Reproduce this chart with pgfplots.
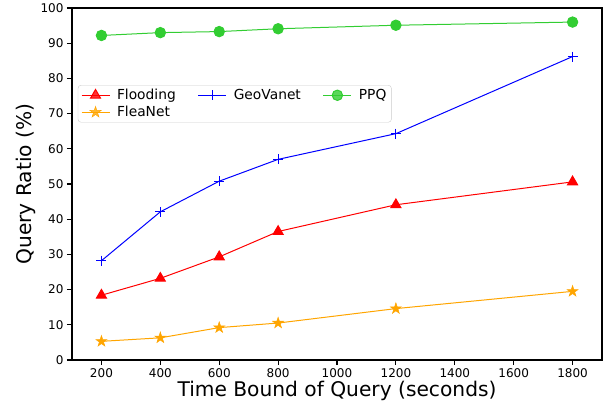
\documentclass[border=0pt]{standalone}
\usepackage{pgfplots}
\pgfplotsset{compat=1.18}
\usepackage{fontspec}
\setmainfont{DejaVu Sans}
\definecolor{mplred}{RGB}{255,0,0}
\definecolor{mplorange}{RGB}{255,165,0}
\definecolor{mplblue}{RGB}{0,0,255}
\definecolor{mplgreen}{RGB}{50,205,50}
\pgfdeclareplotmark{fstar}{%
  \pgfpathmoveto{\pgfpointpolar{90}{\pgfplotmarksize}}%
  \pgfpathlineto{\pgfpointpolar{126}{0.382\pgfplotmarksize}}%
  \pgfpathlineto{\pgfpointpolar{162}{\pgfplotmarksize}}%
  \pgfpathlineto{\pgfpointpolar{198}{0.382\pgfplotmarksize}}%
  \pgfpathlineto{\pgfpointpolar{234}{\pgfplotmarksize}}%
  \pgfpathlineto{\pgfpointpolar{270}{0.382\pgfplotmarksize}}%
  \pgfpathlineto{\pgfpointpolar{306}{\pgfplotmarksize}}%
  \pgfpathlineto{\pgfpointpolar{342}{0.382\pgfplotmarksize}}%
  \pgfpathlineto{\pgfpointpolar{18}{\pgfplotmarksize}}%
  \pgfpathlineto{\pgfpointpolar{54}{0.382\pgfplotmarksize}}%
  \pgfpathclose
  \pgfusepathqfillstroke}
\begin{document}
\begin{tikzpicture}[x=1pt,y=1pt]
\useasboundingbox (-72,-51) rectangle (535,360);
\begin{axis}[
  at={(0,0)}, anchor=south west,
  scale only axis, width=530pt, height=352pt,
  xmin=100, xmax=1900, ymin=0, ymax=100,
  xtick={200,400,...,1800}, ytick={0,10,...,100},
  axis line style={line width=1.6pt},
  tick align=outside, major tick length=5pt,
  tick style={line width=1.2pt, black},
  xtick pos=bottom, ytick pos=left,
  /pgf/number format/assume math mode=true,
  /pgf/number format/1000 sep={},
  ticklabel style={font=\fontsize{12}{14}\selectfont},
  xlabel={Time Bound of Query (seconds)},
  ylabel={Query Ratio (\%)},
  label style={font=\fontsize{20.2}{22}\selectfont},
  xlabel style={yshift=3pt},
  ylabel style={yshift=-2pt},
  legend columns=3,
  legend cell align=left,
  legend style={at={(0.011,0.781)}, anchor=north west,
    draw=black!20, rounded corners=3pt, fill=white, fill opacity=0.8, text opacity=1,
    font=\fontsize{13.8}{16}\selectfont, inner xsep=3pt, inner ysep=2pt,
    row sep=1pt,
    /tikz/every odd column/.append style={column sep=5pt},
    /tikz/every even column/.append style={column sep=20pt}},
  legend image code/.code={\draw[mark repeat=2,mark phase=2,#1] plot coordinates {(0pt,0pt)(14pt,0pt)(28pt,0pt)};},
]
\addplot[mplred, line width=1pt, mark=triangle*, mark size=5.8pt, mark options={solid, fill=mplred, draw=mplred}]
  coordinates {(200,18.4)(400,23.2)(600,29.3)(800,36.5)(1200,44.1)(1800,50.6)};
\addlegendentry{Flooding}
\addplot[mplblue, line width=1pt, mark=+, mark size=5pt, mark options={solid, line width=1pt}]
  coordinates {(200,28.2)(400,42.1)(600,50.8)(800,57.0)(1200,64.3)(1800,86.2)};
\addlegendentry{GeoVanet}
\addplot[mplgreen, line width=1pt, mark=*, mark size=5.2pt, mark options={solid, fill=mplgreen, draw=mplgreen}]
  coordinates {(200,92.2)(400,93.0)(600,93.3)(800,94.1)(1200,95.1)(1800,96.0)};
\addlegendentry{PPQ}
\addplot[mplorange, line width=1pt, mark=fstar, mark size=5.8pt, mark options={solid, fill=mplorange, draw=mplorange, line width=0.5pt}]
  coordinates {(200,5.3)(400,6.3)(600,9.2)(800,10.5)(1200,14.6)(1800,19.5)};
\addlegendentry{FleaNet}
\end{axis}
\end{tikzpicture}
\end{document}
